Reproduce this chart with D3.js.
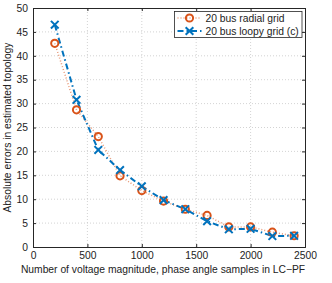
<!DOCTYPE html>
<html>
<head>
<meta charset="utf-8">
<script src="https://cdn.jsdelivr.net/npm/d3@7"></script>
<style>
body { margin: 0; background: #fff; }
text { font-family: "Liberation Sans", Arial, sans-serif; fill: #222; }
</style>
</head>
<body>
<script>
const width = 332;
const height = 283;

// data
const samples = [200, 400, 600, 800, 1000, 1200, 1400, 1600, 1800, 2000, 2200, 2400];
const radial = [42.6, 28.7, 23.1, 14.9, 11.8, 9.6, 7.9, 6.6, 4.2, 4.2, 3.1, 2.35];
const loopy = [46.5, 30.8, 20.3, 16.1, 12.7, 9.8, 7.9, 5.4, 3.7, 3.8, 2.3, 2.35];
const xTicks = [0, 500, 1000, 1500, 2000, 2500];
const yTicks = [0, 5, 10, 15, 20, 25, 30, 35, 40, 45, 50];
const seriesNames = ['20 bus radial grid', '20 bus loopy grid (c)'];

const margin = {left: 33, right: 27, top: 8, bottom: 36};
const x = d3.scaleLinear().domain([0, 2500]).range([margin.left, width - margin.right]);
const y = d3.scaleLinear().domain([0, 50]).range([height - margin.bottom, margin.top]);

const svg = d3.select('body')
    .append('svg')
    .attr('width', width)
    .attr('height', height);

// grid
svg.append('g')
    .selectAll('line')
    .data(xTicks.slice(1, -1))
    .enter()
    .append('line')
    .attr('x1', d => x(d)).attr('x2', d => x(d))
    .attr('y1', y(0)).attr('y2', y(50))
    .attr('stroke', '#c8c8c8')
    .attr('stroke-width', 0.8)
    .attr('stroke-dasharray', '1,2');

svg.append('g')
    .selectAll('line')
    .data(yTicks.slice(1, -1))
    .enter()
    .append('line')
    .attr('y1', d => y(d)).attr('y2', d => y(d))
    .attr('x1', x(0)).attr('x2', x(2500))
    .attr('stroke', '#c8c8c8')
    .attr('stroke-width', 0.8)
    .attr('stroke-dasharray', '1,2');

// axes
svg.append('g')
    .attr('transform', `translate(0,${y(0)})`)
    .call(d3.axisBottom(x).tickValues(xTicks).tickSize(-3).tickPadding(5).tickFormat(d3.format('d')));
svg.append('g')
    .attr('transform', `translate(${x(0)},0)`)
    .call(d3.axisLeft(y).tickValues(yTicks).tickSize(-3).tickPadding(5));
svg.append('g')
    .attr('transform', `translate(0,${y(50)})`)
    .call(d3.axisTop(x).tickValues(xTicks).tickSize(-3).tickFormat(''));
svg.append('g')
    .attr('transform', `translate(${x(2500)},0)`)
    .call(d3.axisRight(y).tickValues(yTicks).tickSize(-3).tickFormat(''));

svg.selectAll('.domain').attr('stroke', '#262626').attr('stroke-width', 1);
svg.selectAll('.tick line').attr('stroke', '#262626');
svg.selectAll('.tick text').attr('font-size', 10.3).attr('fill', '#262626')
    .style('font-family', '"Liberation Sans", Arial, sans-serif');

// lines
const line = d3.line().x((d, i) => x(samples[i])).y(d => y(d));

svg.append('path')
    .datum(radial)
    .attr('d', line)
    .attr('fill', 'none')
    .attr('stroke', '#D95319')
    .attr('stroke-opacity', 0.6)
    .attr('stroke-width', 1.5)
    .attr('stroke-dasharray', '1,2');

svg.append('path')
    .datum(loopy)
    .attr('d', line)
    .attr('fill', 'none')
    .attr('stroke', '#0072BD')
    .attr('stroke-width', 2)
    .attr('stroke-dasharray', '6,3,1.5,3');

// markers
svg.append('g')
    .selectAll('circle')
    .data(radial)
    .enter()
    .append('circle')
    .attr('cx', (d, i) => x(samples[i]))
    .attr('cy', d => y(d))
    .attr('r', 3.6)
    .attr('fill', 'none')
    .attr('stroke', '#D95319')
    .attr('stroke-width', 2);

const cross = d3.symbol().type(d3.symbolX).size(40);
svg.append('g')
    .selectAll('path')
    .data(loopy)
    .enter()
    .append('path')
    .attr('transform', (d, i) => `translate(${x(samples[i])},${y(d)})`)
    .attr('d', cross)
    .attr('fill', 'none')
    .attr('stroke', '#0072BD')
    .attr('stroke-width', 2);

// legend
const lg = svg.append('g').attr('transform', 'translate(174.5,11.5)');
lg.append('rect')
    .attr('width', 127.5)
    .attr('height', 26)
    .attr('fill', '#fff')
    .attr('stroke', '#262626')
    .attr('stroke-width', 0.8);

const items = lg.selectAll('g.item')
    .data(seriesNames)
    .enter()
    .append('g')
    .attr('transform', (d, i) => `translate(0,${6.5 + i * 13})`);

items.append('line')
    .attr('x1', 3).attr('x2', 27)
    .attr('stroke', (d, i) => i ? '#0072BD' : '#D95319')
    .attr('stroke-opacity', (d, i) => i ? 1 : 0.6)
    .attr('stroke-width', (d, i) => i ? 2 : 1.5)
    .attr('stroke-dasharray', (d, i) => i ? '6,3,1.5,3' : '1,2');

items.filter((d, i) => i === 0).append('circle')
    .attr('cx', 15).attr('r', 3.6)
    .attr('fill', 'none').attr('stroke', '#D95319').attr('stroke-width', 2);
items.filter((d, i) => i === 1).append('path')
    .attr('transform', 'translate(15,0)')
    .attr('d', cross)
    .attr('fill', 'none').attr('stroke', '#0072BD').attr('stroke-width', 2);

items.append('text')
    .attr('x', 31)
    .attr('dy', '0.35em')
    .attr('font-size', 10.3)
    .attr('fill', '#262626')
    .text(d => d);

// axis labels
svg.append('text')
    .attr('x', 163)
    .attr('y', 273)
    .attr('text-anchor', 'middle')
    .attr('font-size', 10.3)
    .attr('fill', '#262626')
    .text('Number of voltage magnitude, phase angle samples in LC\u2212PF');

svg.append('text')
    .attr('transform', `translate(11,${(y(0) + y(50)) / 2}) rotate(-90)`)
    .attr('text-anchor', 'middle')
    .attr('font-size', 10.3)
    .attr('fill', '#262626')
    .text('Absolute errors in estimated topology');
</script>
</body>
</html>
